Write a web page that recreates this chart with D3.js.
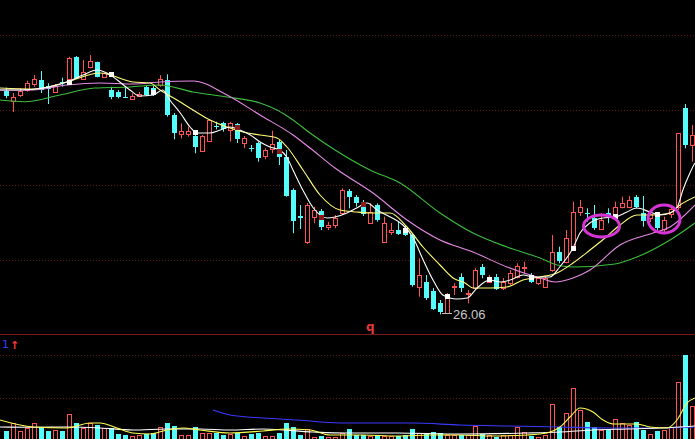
<!DOCTYPE html>
<html><head><meta charset="utf-8">
<script src="https://cdn.jsdelivr.net/npm/d3@7"></script>
<style>html,body{margin:0;padding:0;background:#000;overflow:hidden}</style>
</head><body><svg id="c" width="695" height="439"></svg>
<script>
// ---- data ----
const opens=[48.43,47.43,48.0,48.5,49.1,49.5,48.9,48.33,49.3,49.57,
51.77,49.57,50.77,51.27,49.83,48.5,48.33,47.83,47.6,47.9,
48.83,48.67,49.0,49.55,46.0,44.1,44.1,43.9,42.43,43.43,
44.93,45.23,44.5,45.07,43.17,42.7,43.17,41.9,42.57,43.33,
41.83,38.5,35.9,33.33,35.83,36.43,34.77,35.0,36.17,38.43,
37.83,37.3,35.23,37.0,33.33,34.33,34.5,34.7,34.0,28.83,
29.33,28.43,27.25,26.23,28.8,29.83,28.07,28.7,30.83,29.33,
29.83,28.7,29.17,29.83,30.7,29.9,29.17,28.83,30.5,32.33,
31.33,32.83,36.33,36.2,35.67,34.57,36.2,36.0,36.83,36.83,
37.77,36.17,35.67,35.83,34.57,36.1,36.8,46.67,43.0];
const closes=[47.93,47.83,48.43,49.17,49.6,48.5,48.57,48.93,49.2,51.67,
49.67,50.33,51.43,49.83,50.17,47.77,47.77,47.73,47.93,48.1,
48.0,48.0,49.57,46.0,44.17,44.43,44.43,42.83,43.9,45.5,
44.87,44.57,45.17,43.57,43.67,42.63,41.67,42.5,43.1,41.77,
37.9,35.43,35.7,37.0,36.5,34.77,35.0,35.67,38.5,37.83,
37.17,36.1,36.33,35.5,35.17,34.5,34.1,34.0,29.0,30.0,
27.75,26.6,26.33,27.67,28.9,28.67,28.17,30.5,30.0,29.8,
28.6,29.33,30.17,30.9,30.8,29.3,29.67,29.67,32.33,31.43,
33.67,36.33,36.83,36.1,34.67,35.5,36.05,36.83,37.23,37.5,
36.77,35.4,36.1,34.67,35.5,36.57,44.17,43.0,44.0];
const highs=[48.73,48.2,48.7,49.43,50.0,50.4,49.17,49.1,49.73,51.83,
51.9,51.5,52.0,51.33,50.23,48.83,48.5,48.83,48.17,48.3,
49.0,48.9,50.0,50.07,46.2,45.17,44.83,44.2,44.0,45.57,
45.33,45.33,45.33,45.2,43.9,43.0,43.33,42.67,44.43,43.5,
42.5,38.67,37.0,37.2,36.83,36.6,35.33,36.0,38.67,38.6,
38.0,37.5,37.17,37.17,35.83,35.2,35.33,34.9,34.17,31.67,
30.0,28.7,27.5,28.2,29.17,30.17,28.5,30.67,31.1,30.0,
30.1,29.7,30.5,31.17,31.33,30.2,29.83,29.83,34.0,32.83,
34.5,37.33,37.5,36.67,37.0,36.17,36.67,37.33,37.83,37.9,
38.0,37.9,36.4,36.17,35.83,36.9,44.2,47.1,45.0];
const lows=[47.67,46.3,47.8,48.33,48.83,48.2,47.1,48.23,48.83,49.33,
49.6,49.5,50.67,49.77,49.77,47.57,47.67,47.7,47.5,47.8,
47.9,47.9,48.83,45.83,43.57,43.67,43.83,42.17,42.33,43.33,
44.57,44.33,43.33,43.2,42.67,42.33,41.33,41.57,42.17,41.0,
37.83,34.17,34.6,33.1,35.17,34.5,34.5,34.67,36.0,36.67,
36.83,35.9,35.17,35.33,33.23,34.0,34.0,33.9,28.83,27.83,
27.5,26.5,26.06,26.17,28.0,28.3,27.17,28.5,29.67,29.2,
28.5,28.5,29.0,29.67,30.17,29.2,29.0,28.77,30.33,31.17,
31.17,32.5,35.9,35.33,34.5,34.5,35.17,35.9,36.67,36.67,
36.67,34.83,35.3,34.5,34.17,35.7,36.5,42.67,41.33];
const volumes=[9,16.7,9,12,16.7,12.7,9,10,9,25.7,
16.7,12,17.3,15,12,12,6,5,4,5,
6,6.7,12.7,16.7,14,5,5,12.7,7.3,7.3,
6.7,5,6,6.7,4,6,6.7,4,4,7.3,
16.7,12.7,5,10.7,3.3,4,2.7,3.3,6.7,10.7,
5,5,4,5,4,4,4,5,10.7,7.3,
6,8.3,7.3,5,5,5,5,14,6,5,
3.3,5,5,13.3,8.3,4,3.3,5,36,12.7,
26.7,51.7,30,18.3,12.7,10,10.7,21,16.7,15,
17.7,10,6,9.3,10,13.3,58.3,85,34];
// moving-average lines, read as [candle index, value]
const ma5=[[-0.86,48.5],[2,48.5],[5.3,48.7],[8.7,49.3],[11,50.0],[13,50.5],[14.4,50.2],[15.9,49.5],[17.7,48.5],[19.1,47.9],[21,48.0],[22.4,48.5],[23.4,47.5],[24.9,46.2],[26.3,44.8],[27.3,44.2],[29.1,44.2],[30.6,44.5],[32,44.8],[33.4,44.5],[34.9,44.0],[36.3,43.3],[37.7,42.8],[39.1,42.5],[40.1,41.8],[41,40.5],[42.4,38.5],[43.9,36.7],[45.9,35.7],[47,35.8],[48.7,36.2],[50.1,36.7],[51.6,37.2],[53,36.5],[54.9,35.8],[56.7,35.0],[58.1,33.8],[59.6,31.5],[61,29.5],[62.4,28.0],[64.4,27.6],[65.9,27.7],[67.3,28.7],[69.1,29.5],[70.6,29.3],[72,29.5],[73.9,30.0],[75.3,29.8],[77.7,29.8],[79.1,30.8],[81,32.7],[82,34.2],[83.4,35.2],[85.3,35.7],[87,35.8],[88.7,36.3],[90.1,36.7],[92,36.3],[93.4,36.0],[94.9,36.2],[95.9,36.8],[96.7,38.5],[97.7,40.2],[98.4,41.2]];
const ma10=[[-0.86,48.7],[3.86,48.6],[8.71,49.3],[13.43,50.2],[18.14,49.3],[20.57,49.2],[22,48.5],[24.43,47.5],[26.71,46.5],[29.14,45.5],[31.57,44.8],[33.86,44.3],[36.29,44.0],[38.71,43.7],[40.14,42.8],[42.43,40.5],[44.86,38.0],[47.71,36.5],[50.14,36.3],[52.43,36.2],[54.86,36.2],[57.29,34.8],[59.57,32.8],[62,31.0],[63.86,29.7],[65.57,29.2],[66.71,28.7],[69.14,28.7],[71.57,28.8],[73.86,29.5],[76.29,29.8],[78.71,30.2],[81,31.2],[83.43,32.5],[85.57,33.7],[87.71,35.0],[90.14,36.0],[92.43,36.0],[94.86,36.2],[96.29,37.0],[98.43,37.8]];
const ma20=[[-0.86,48.5],[3.86,48.5],[8.71,49.0],[13.43,49.2],[18.14,49.1],[22,49.3],[26.71,49.4],[31.57,48.0],[36.29,46.0],[41,44.0],[43.43,42.7],[47,40.7],[52.43,38.2],[57.29,35.5],[62,33.5],[66.71,32.3],[71.57,30.8],[76.29,29.7],[78.43,29.3],[81,29.7],[83.43,30.5],[87.71,33.0],[92.43,34.2],[94.86,34.8],[98.43,37.0]];
const ma60=[[-0.86,47.5],[2.71,47.33],[7.71,48.0],[12.71,48.7],[17.71,48.8],[22,49.0],[26.71,48.3],[31.57,47.8],[36.29,47.2],[38.71,46.5],[41,45.5],[43.43,44.2],[47,42.5],[52,40.5],[56.29,39.2],[62,36.2],[66.71,34.2],[71.57,32.8],[76.29,31.7],[78.71,31.0],[81,30.8],[87,31.1],[90.14,31.8],[94.86,33.5],[98.43,35.2]];
const volMaYellow=[[-0.86,20],[3.86,13],[8.71,12],[12,17],[13.43,17],[15.86,12],[18.14,7],[20.57,6],[23,10],[25.29,12],[27.71,10],[32,7],[36.71,9],[40.14,11],[43.43,10],[46.29,5],[51,5],[55.86,4],[60.57,5],[64.86,5],[69.57,4],[74.43,5],[77.29,7],[79.14,13],[80.57,23],[82,32],[83.86,28],[85.29,20],[86.71,16],[90.14,16],[92,13],[94.43,12],[95.86,20],[97.29,37],[98.43,42]];
const volMaWhite=[[-0.86,13],[3.86,12.7],[8.71,13],[13.43,12],[18.14,10],[23,11],[27.71,11],[32,10],[36.71,11],[43.86,8],[48.71,7],[55.86,7],[64.86,6],[74.43,7],[79.14,8],[83.86,10],[88.71,11],[93.43,12],[98.43,14]];
const volMaBlue=[[29.57,30],[32,25],[36.71,22],[41.57,20],[47.71,17],[53.43,17],[58.14,17],[64.86,15],[72,14],[79.14,13],[86.29,12],[93.43,12],[98.43,13]];
const markerIdx=[9,15,21,27,33,39,45,51,57,63,69,75,81,87,93];
const markerVal=[49.3,50.1,48.3,44.3,44.8,42.4,35.8,37.1,34.5,27.9,29.6,29.8,32.7,35.9,36.1];
const markerKind=['w','w','w','w','r','r','r','r','w','w','w','w','w','w','w'];
const priceGrid=[54,46.5,39,31.5];
const volGrid=[42,85];
const lowLabel="26.06";
const circled=[[85.07,34.9],[94,35.6]];

// ---- drawing ----
const W=695,H=439;
const svg=d3.select('#c');
svg.append('rect').attr('width',W).attr('height',H).attr('fill','#000');
const x=d3.scaleLinear().domain([0,98]).range([6,692]);
const yP=d3.scaleLinear().domain([54,31.5]).range([35,260]);
const yV=d3.scaleLinear().domain([0,100]).range([440,340]);
const RED='#ff5252', CYAN='#54fcfc';

const defs=svg.append('defs');
defs.append('clipPath').attr('id','cpMain').append('rect').attr('x',0).attr('y',0).attr('width',W).attr('height',334);
defs.append('clipPath').attr('id','cpVol').append('rect').attr('x',0).attr('y',336).attr('width',W).attr('height',H-336);

const grid=svg.append('g');
grid.selectAll('line.pg').data(priceGrid).enter().append('line')
  .attr('x1',0).attr('x2',W).attr('y1',d=>Math.round(yP(d))+0.5).attr('y2',d=>Math.round(yP(d))+0.5)
  .attr('stroke','#5e1818').attr('stroke-dasharray','1,2');
grid.selectAll('line.vg').data(volGrid).enter().append('line')
  .attr('x1',0).attr('x2',W).attr('y1',d=>Math.round(yV(d))+0.5).attr('y2',d=>Math.round(yV(d))+0.5)
  .attr('stroke','#5e1818').attr('stroke-dasharray','1,2');
svg.append('line').attr('x1',0).attr('x2',W).attr('y1',334.5).attr('y2',334.5).attr('stroke','#7a1a1a');

const main=svg.append('g').attr('clip-path','url(#cpMain)');
const idx=d3.range(opens.length);
const cx=i=>Math.round(x(i));

// candles
const cg=main.append('g');
idx.forEach(i=>{
  const o=opens[i],c=closes[i],h=highs[i],l=lows[i];
  const up=c>=o;
  const X=cx(i)+0.5;
  const top=Math.round(yP(Math.max(o,c))), bot=Math.round(yP(Math.min(o,c)));
  if(up){
    cg.append('line').attr('x1',X).attr('x2',X).attr('y1',yP(h)).attr('y2',top).attr('stroke',RED);
    cg.append('line').attr('x1',X).attr('x2',X).attr('y1',bot).attr('y2',yP(l)).attr('stroke',RED);
    cg.append('rect').attr('x',cx(i)-2+0.5).attr('y',top+0.5).attr('width',4).attr('height',Math.max(bot-top,1))
      .attr('fill','#000').attr('stroke',RED);
  } else {
    cg.append('line').attr('x1',X).attr('x2',X).attr('y1',yP(h)).attr('y2',yP(l)).attr('stroke',CYAN);
    cg.append('rect').attr('x',cx(i)-2).attr('y',top).attr('width',5).attr('height',Math.max(bot-top,1)).attr('fill',CYAN);
  }
});

// MA lines
const lineP=d3.line().x(d=>x(d[0])).y(d=>yP(d[1])).curve(d3.curveMonotoneX);
[[ma60,'#3cbf3c'],[ma20,'#e68ae6'],[ma10,'#ffff78'],[ma5,'#ffffff']].forEach(([d,col])=>{
  main.append('path').attr('d',lineP(d)).attr('fill','none').attr('stroke',col).attr('stroke-width',1.1);
});
// markers on MA5
main.selectAll('rect.mk').data(markerIdx).enter().append('rect')
  .attr('x',(d)=>cx(d)-2).attr('y',(d,k)=>Math.round(yP(markerVal[k]))-2)
  .attr('width',5).attr('height',5)
  .attr('fill',(d,k)=>markerKind[k]==='w'?'#ffffff':'#8a1c1c');

// low annotation
const lowI=lows.indexOf(d3.min(lows));
const lx=cx(lowI), ly=Math.round(yP(lows[lowI]));
main.append('line').attr('x1',lx+2).attr('x2',lx+12).attr('y1',ly-0.5).attr('y2',ly-0.5).attr('stroke','#bdbdbd');
main.append('text').attr('x',lx+13).attr('y',ly+5).text(lowLabel)
  .attr('fill','#c8c8c8').attr('font-family','Liberation Sans, Arial, sans-serif').attr('font-size',13);

// circled areas
main.selectAll('ellipse.ring').data(circled).enter().append('ellipse')
  .attr('cx',d=>x(d[0])).attr('cy',d=>yP(d[1]))
  .attr('rx',(d,k)=>k===0?18:16).attr('ry',(d,k)=>k===0?11:14)
  .attr('fill','none').attr('stroke','#d535d5').attr('stroke-width',3);

// volume panel
const vol=svg.append('g').attr('clip-path','url(#cpVol)');
idx.forEach(i=>{
  const up=closes[i]>=opens[i];
  const t=Math.round(yV(volumes[i]));
  if(up){
    vol.append('rect').attr('x',cx(i)-2+0.5).attr('y',t+0.5).attr('width',4).attr('height',442-t)
      .attr('fill','none').attr('stroke',RED);
  } else {
    vol.append('rect').attr('x',cx(i)-2).attr('y',t).attr('width',5).attr('height',442-t).attr('fill',CYAN);
  }
});
const lineV=d3.line().x(d=>x(d[0])).y(d=>yV(d[1])).curve(d3.curveMonotoneX);
[[volMaBlue,'#3a3aff'],[volMaWhite,'#ffffff'],[volMaYellow,'#ffff50']].forEach(([d,col])=>{
  vol.append('path').attr('d',lineV(d)).attr('fill','none').attr('stroke',col).attr('stroke-width',1.1);
});

// labels
svg.append('text').attr('x',366).attr('y',331).text('q').attr('fill','#e03a3a')
  .attr('font-family','DejaVu Sans, sans-serif').attr('font-size',12).attr('font-weight','bold');
svg.append('text').attr('x',2).attr('y',348).text('1').attr('fill','#3a3aff')
  .attr('font-family','DejaVu Sans, sans-serif').attr('font-size',11);
svg.append('text').attr('x',10).attr('y',349).text('↑').attr('fill','#ff3a3a')
  .attr('font-family','DejaVu Sans, sans-serif').attr('font-size',11).attr('font-weight','bold');
</script></body></html>
